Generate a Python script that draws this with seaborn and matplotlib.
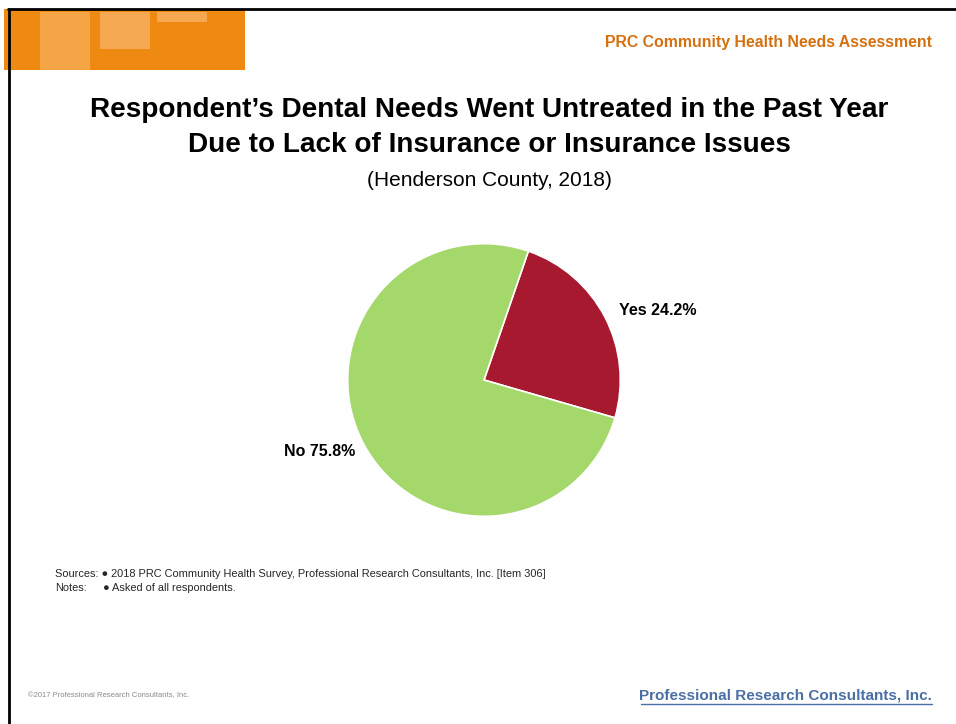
import matplotlib
matplotlib.use("Agg")
import matplotlib.pyplot as plt
import matplotlib.patches as mpatches
import seaborn as sns

labels = ["Yes", "No"]
values = [24.2, 75.8]
colors = ["#A6192E", "#A5D86B"]

title_lines = ["Respondent\u2019s Dental Needs Went Untreated in the Past Year",
               "Due to Lack of Insurance or Insurance Issues"]
subtitle = "(Henderson County, 2018)"
header = "PRC Community Health Needs Assessment"
sources = "Sources: \u25cf 2018 PRC Community Health Survey, Professional Research Consultants, Inc. [Item 306]"
notes_label = "Notes:"
notes = "\u25cf Asked of all respondents."
footer_left = "\u00a92017 Professional Research Consultants, Inc."
footer_right = "Professional Research Consultants, Inc."

sns.set_theme(style="white")
plt.rcParams["font.family"] = ["Liberation Sans", "DejaVu Sans"]

W, H = 956, 724
fig = plt.figure(figsize=(W / 100, H / 100), dpi=100)
fig.patch.set_facecolor("white")

def fx(x):
    return x / W

def fy(y):
    return 1 - y / H

# Orange banner
banner = [
    (4, 9, 241, 61, "#EE8A12"),
    (40, 12, 50, 58, "#F5A545"),
    (100, 12, 50, 37, "#F6A850"),
    (157, 12, 50, 10, "#F6A850"),
]
for x, y, w, h, c in banner:
    fig.add_artist(mpatches.Rectangle((fx(x), fy(y + h)), w / W, h / H,
                                      transform=fig.transFigure, color=c, lw=0))
# Border lines
fig.add_artist(plt.Line2D([fx(8), 1], [fy(9), fy(9)], transform=fig.transFigure, color="black", lw=2))
fig.add_artist(plt.Line2D([fx(9), fx(9)], [fy(9), 0], transform=fig.transFigure, color="black", lw=2))

fig.text(fx(932), fy(42), header, ha="right", va="center", fontsize=11.4,
         fontweight="bold", color="#D4700F")
fig.text(fx(489), fy(110), title_lines[0], ha="center", va="center", fontsize=20.1,
         fontweight="bold", color="black")
fig.text(fx(489), fy(145), title_lines[1], ha="center", va="center", fontsize=20.1,
         fontweight="bold", color="black")
fig.text(fx(489), fy(180), subtitle, ha="center", va="center", fontsize=15, color="black")

# Pie
r = 137
cx, cy = 484, 380
ax = fig.add_axes([fx(cx - r), fy(cy + r), 2 * r / W, 2 * r / H])
ax.pie(values, colors=colors, startangle=71, counterclock=False,
       wedgeprops=dict(edgecolor="white", linewidth=1.2))
ax.set_xlim(-1.005, 1.005)
ax.set_ylim(-1.005, 1.005)
ax.set_aspect("equal")
ax.axis("off")

fig.text(fx(658), fy(310), f"{labels[0]} {values[0]}%", ha="center", va="center",
         fontsize=11.5, fontweight="bold", color="black")
fig.text(fx(320), fy(451), f"{labels[1]} {values[1]}%", ha="center", va="center",
         fontsize=11.5, fontweight="bold", color="black")

fig.text(fx(55), fy(574), sources, ha="left", va="center", fontsize=7.9)
fig.text(fx(55), fy(588), notes_label, ha="left", va="center", fontsize=7.9)
fig.text(fx(103), fy(588), notes, ha="left", va="center", fontsize=7.9)

fig.text(fx(28), fy(696), footer_left, ha="left", va="center", fontsize=5.5, color="#8A8A8A")
fig.text(fx(932), fy(696), footer_right, ha="right", va="center", fontsize=11,
         fontweight="bold", color="#4A6FA5")
fig.add_artist(plt.Line2D([fx(641), fx(932)], [fy(704), fy(704)], transform=fig.transFigure,
                          color="#4A6FA5", lw=1))

fig.savefig("out.png", dpi=100, facecolor="white")
